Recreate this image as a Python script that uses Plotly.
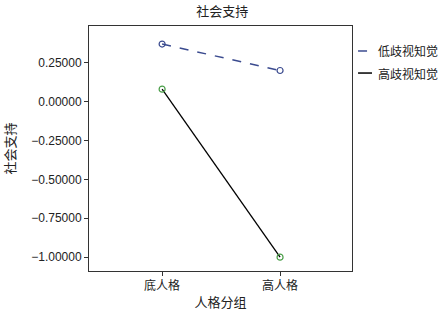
import plotly.graph_objects as go

categories = ["底人格", "高人格"]
low_disc = [0.37, 0.20]
high_disc = [0.08, -1.00]
series_names = ["低歧视知觉", "高歧视知觉"]
y_ticks = [0.25, 0.0, -0.25, -0.5, -0.75, -1.0]

blue = "#3b4b8f"
green = "#4a9e48"
font_cjk = "Noto Sans CJK SC, Liberation Sans, Arial, sans-serif"
font_num = "Liberation Sans, Arial, sans-serif"

fig = go.Figure()
fig.add_trace(go.Scatter(
    x=categories, y=low_disc, mode="lines+markers", name=series_names[0],
    line=dict(color=blue, width=1.5, dash="dash"),
    marker=dict(symbol="circle-open", size=6, color=blue, line=dict(width=1.2)),
    showlegend=False))
fig.add_trace(go.Scatter(
    x=categories, y=high_disc, mode="lines", name=series_names[1],
    line=dict(color="black", width=1.3), showlegend=False))
fig.add_trace(go.Scatter(
    x=categories, y=high_disc, mode="markers", name=series_names[1],
    marker=dict(symbol="circle-open", size=6, color=green, line=dict(width=1.2)),
    showlegend=False))

# manual legend
leg_y = [0.898, 0.808]
styles = [dict(color=blue, width=1.5, dash="dash"), dict(color="black", width=1.5)]
for name, yy, st in zip(series_names, leg_y, styles):
    fig.add_shape(type="line", xref="paper", yref="paper",
                  x0=1.023, x1=1.076, y0=yy, y1=yy, line=st)
    fig.add_annotation(text=name, xref="paper", yref="paper", x=1.093, y=yy,
                       xanchor="left", yanchor="middle", showarrow=False,
                       font=dict(family=font_cjk, size=12, color="#222"))

fig.update_layout(
    width=439, height=313,
    margin=dict(l=89, r=87, t=26, b=42, autoexpand=False),
    paper_bgcolor="white", plot_bgcolor="white",
    title=dict(text="社会支持", x=0.506, xanchor="center", y=0.962, yanchor="middle",
               font=dict(family=font_cjk, size=13, color="#222")),
    xaxis=dict(type="category", range=[-0.62, 1.61], showline=True, mirror=True,
               linecolor="#333", linewidth=1, ticks="outside", ticklen=4,
               tickcolor="#333", showgrid=False, zeroline=False, automargin=False,
               tickfont=dict(family=font_cjk, size=12, color="#222"),
               title=dict(text="人格分组", standoff=5,
                          font=dict(family=font_cjk, size=13, color="#222"))),
    yaxis=dict(range=[-1.089, 0.486], tickvals=y_ticks, tickformat=".5f",
               showline=True, mirror=True, linecolor="#333", linewidth=1,
               ticks="outside", ticklen=4, tickcolor="#333", showgrid=False,
               zeroline=False, automargin=False,
               tickfont=dict(family=font_num, size=12, color="#222"),
               title=dict(text="社会支持", standoff=12,
                          font=dict(family=font_cjk, size=13, color="#222"))),
)

fig.write_html("out.html",
               config={"displayModeBar": False},
               post_script="document.body.style.margin='0';document.body.style.overflow='hidden';")
